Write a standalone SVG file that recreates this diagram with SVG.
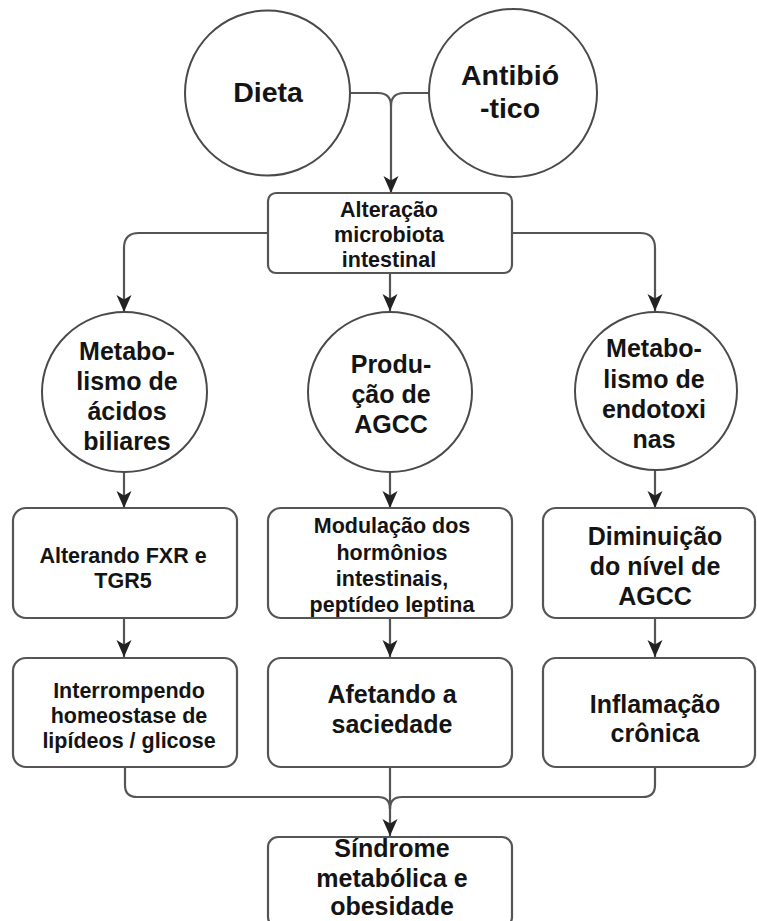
<svg xmlns="http://www.w3.org/2000/svg" width="757" height="921" viewBox="0 0 757 921">
<defs>
<style>
.bg{fill:#ffffff}
.node{fill:#ffffff;stroke:#4a4a4a;stroke-width:2}
.box{fill:#ffffff;stroke:#555555;stroke-width:2.2}
.edge{fill:none;stroke:#555555;stroke-width:2.2}
.t{font-family:"Liberation Sans",Arial,sans-serif;font-weight:bold;fill:#141414;text-anchor:middle}
.s{font-size:21.5px}
.m{font-size:25px}
.l{font-size:28.5px}
</style>
<marker id="arr" markerUnits="userSpaceOnUse" markerWidth="18" markerHeight="18" viewBox="0 0 18 18" refX="17" refY="9" orient="auto">
<path d="M0,1.5 L17,9 L0,16.5 L4.5,9 Z" fill="#222222"/>
</marker>
</defs>
<rect class="bg" x="0" y="0" width="757" height="921"/>

<g id="connectors">
<path class="edge" d="M350,93 H378 Q391,93 391,106 V193" marker-end="url(#arr)"/>
<path class="edge" d="M429,93 H404 Q391,93 391,106"/>
<path class="edge" d="M268,233 H139 Q124,233 124,248 V312" marker-end="url(#arr)"/>
<path class="edge" d="M390,273 V311" marker-end="url(#arr)"/>
<path class="edge" d="M512,233 H640 Q655,233 655,248 V311" marker-end="url(#arr)"/>
<path class="edge" d="M124,472 V508" marker-end="url(#arr)"/>
<path class="edge" d="M390,472 V508" marker-end="url(#arr)"/>
<path class="edge" d="M655,470 V508" marker-end="url(#arr)"/>
<path class="edge" d="M124,618 V657" marker-end="url(#arr)"/>
<path class="edge" d="M390,618 V657" marker-end="url(#arr)"/>
<path class="edge" d="M655,618 V657" marker-end="url(#arr)"/>
<path class="edge" d="M125,767 V785 Q125,797 137,797 H378 Q390,797 390,809"/>
<path class="edge" d="M655,767 V785 Q655,797 643,797 H402 Q390,797 390,809"/>
<path class="edge" d="M390,767 V836" marker-end="url(#arr)"/>
</g>

<g id="dieta">
<circle class="node" cx="267.5" cy="93" r="82.5"/>
<text class="t l" x="268" y="102">Dieta</text>
</g>
<g id="antibiotico">
<circle class="node" cx="513" cy="93" r="84"/>
<text class="t l" x="510" y="85">Antibió</text>
<text class="t l" x="510" y="118">-tico</text>
</g>

<g id="alteracao">
<rect class="box" x="268" y="193" width="244" height="80" rx="8"/>
<text class="t s" x="389" y="217">Alteração</text>
<text class="t s" x="389" y="242">microbiota</text>
<text class="t s" x="389" y="267">intestinal</text>
</g>

<g id="acidos-biliares">
<ellipse class="node" cx="124.5" cy="392" rx="82.5" ry="80"/>
<text class="t m" x="127" y="360">Metabo-</text>
<text class="t m" x="127" y="390">lismo de</text>
<text class="t m" x="127" y="420">ácidos</text>
<text class="t m" x="127" y="450">biliares</text>
</g>
<g id="agcc">
<ellipse class="node" cx="390" cy="392" rx="82" ry="80"/>
<text class="t m" x="391" y="373">Produ-</text>
<text class="t m" x="391" y="403">ção de</text>
<text class="t m" x="391" y="433">AGCC</text>
</g>
<g id="endotoxinas">
<ellipse class="node" cx="656" cy="391" rx="81" ry="79"/>
<text class="t m" x="654" y="357">Metabo-</text>
<text class="t m" x="654" y="388">lismo de</text>
<text class="t m" x="654" y="418">endotoxi</text>
<text class="t m" x="654" y="448">nas</text>
</g>

<g id="fxr">
<rect class="box" x="13" y="508" width="224" height="110" rx="13"/>
<text class="t s" x="123" y="563">Alterando FXR e</text>
<text class="t s" x="123" y="588">TGR5</text>
</g>
<g id="modulacao">
<rect class="box" x="268" y="508" width="244" height="110" rx="13"/>
<text class="t s" x="392" y="533">Modulação dos</text>
<text class="t s" x="392" y="560">hormônios</text>
<text class="t s" x="392" y="586">intestinais,</text>
<text class="t s" x="392" y="612">peptídeo leptina</text>
</g>
<g id="diminuicao">
<rect class="box" x="543" y="508" width="212" height="110" rx="13"/>
<text class="t m" x="655" y="545">Diminuição</text>
<text class="t m" x="655" y="575">do nível de</text>
<text class="t m" x="655" y="605">AGCC</text>
</g>

<g id="homeostase">
<rect class="box" x="13" y="658" width="224" height="109" rx="13"/>
<text class="t s" x="129" y="698">Interrompendo</text>
<text class="t s" x="129" y="723">homeostase de</text>
<text class="t s" x="129" y="748">lipídeos / glicose</text>
</g>
<g id="saciedade">
<rect class="box" x="268" y="658" width="244" height="109" rx="13"/>
<text class="t m" x="392" y="703">Afetando a</text>
<text class="t m" x="392" y="733">saciedade</text>
</g>
<g id="inflamacao">
<rect class="box" x="543" y="658" width="212" height="109" rx="13"/>
<text class="t m" x="655" y="713">Inflamação</text>
<text class="t m" x="655" y="742">crônica</text>
</g>

<g id="sindrome">
<rect class="box" x="268" y="837" width="244" height="90" rx="10"/>
<text class="t m" x="392" y="857">Síndrome</text>
<text class="t m" x="392" y="887">metabólica e</text>
<text class="t m" x="392" y="915">obesidade</text>
</g>
</svg>
